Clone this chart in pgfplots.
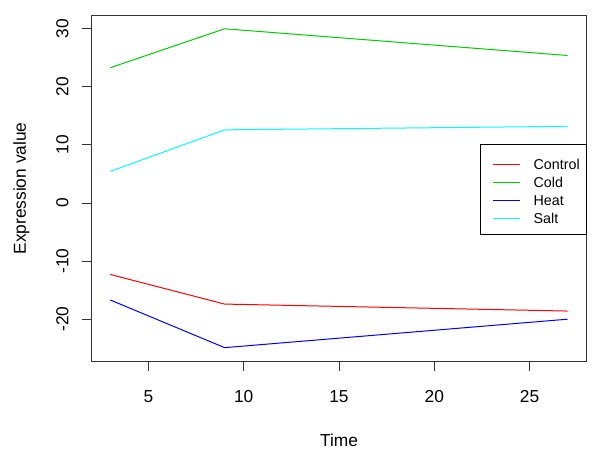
\documentclass[border=0pt]{standalone}
\usepackage{fontspec}
\setmainfont{Liberation Sans}
\usepackage{pgfplots}
\pgfplotsset{compat=1.18}
\definecolor{rred}{HTML}{FF0000}
\definecolor{rgreen}{HTML}{00CD00}
\definecolor{rblue}{HTML}{0000FF}
\definecolor{rcyan}{HTML}{00FFFF}
\begin{document}
\begin{tikzpicture}
\begin{axis}[
  scale only axis,
  width=370.5pt, height=258.75pt,
  xmin=2.04, xmax=27.96, ymin=-27.2, ymax=32.2,
  xtick={5,10,15,20,25}, ytick={-20,-10,0,10,20,30},
  xtick pos=left, ytick pos=left,
  tick align=outside, major tick length=7.2pt,
  axis line style={black!80, line width=0.75pt},
  every tick/.style={black!80, line width=0.75pt},
  /pgf/number format/assume math mode=true,
  tick label style={font=\fontsize{13}{15}\selectfont},
  xticklabel style={anchor=north, inner sep=0pt, yshift=-15pt},
  yticklabel style={inner sep=0pt, xshift=-10.5pt, rotate=90, anchor=base},
  xlabel={Time}, ylabel={Expression value},
  label style={font=\fontsize{13}{15}\selectfont},
  xlabel style={at={([yshift=-64pt]axis description cs:0.5,0)}, anchor=base, inner sep=0pt},
  ylabel style={at={([xshift=-49.5pt]axis description cs:0,0.5)}, anchor=base, inner sep=0pt, rotate=0},
  legend style={at={(rel axis cs:0.785,0.629)}, anchor=north west, draw=black, line width=0.6pt,
    inner xsep=5.25pt, inner ysep=7.5pt, row sep=1.8pt, column sep=9.75pt,
    font=\fontsize{10.7}{12}\selectfont,
    nodes={inner sep=0pt, text height=11.7pt, text depth=0pt, anchor=base west}},
  legend cell align=left,
  legend image code/.code={\path[draw=none] (0pt,0pt) -- (24.75pt,0pt);
    \draw[#1] (4.5pt,3.85pt) -- (24.75pt,3.85pt);},
  every axis plot/.append style={line width=0.75pt},
]
\addplot[rred] coordinates {(3,-12.3) (9,-17.4) (27,-18.6)};
\addplot[rgreen] coordinates {(3,23.3) (9,30.0) (27,25.4)};
\addplot[rblue] coordinates {(3,-16.7) (9,-24.9) (27,-20.0)};
\addplot[rcyan] coordinates {(3,5.45) (9,12.6) (27,13.2)};
\legend{Control,Cold,Heat,Salt}
\end{axis}
\path[use as bounding box] ([shift={(-69pt,-72.75pt)}]current axis.south west) rectangle ([shift={(10.5pt,12pt)}]current axis.north east);
\end{tikzpicture}
\end{document}
